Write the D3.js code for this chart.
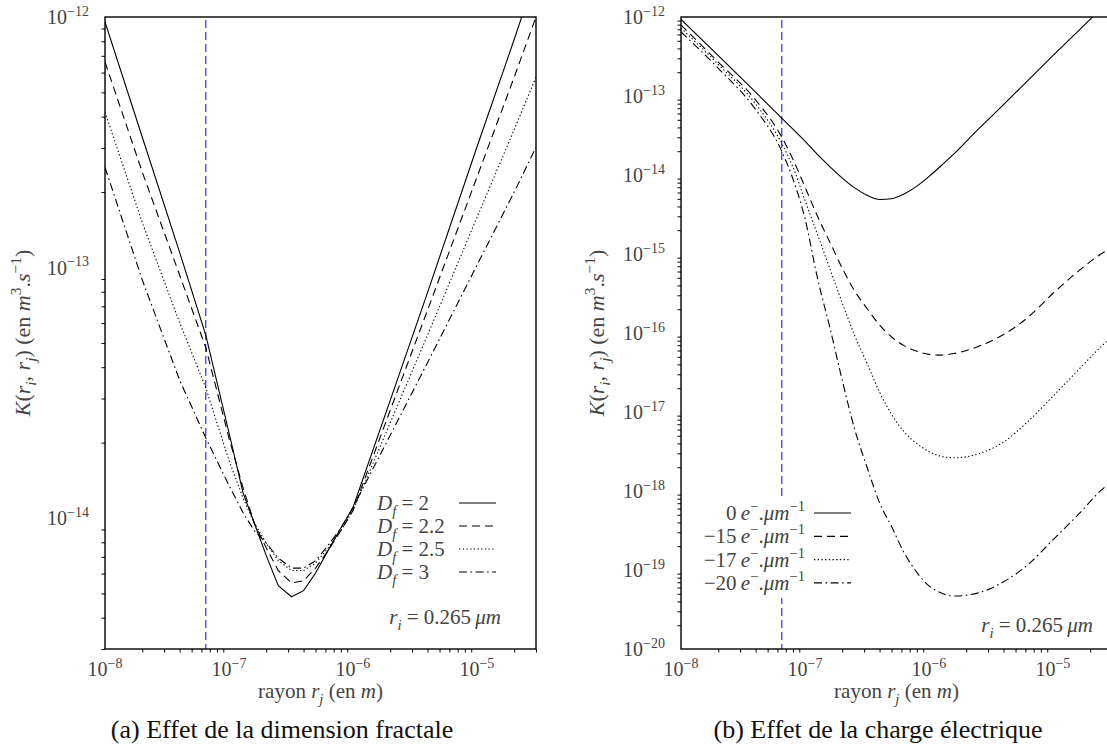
<!DOCTYPE html>
<html><head><meta charset="utf-8">
<script src="https://cdn.jsdelivr.net/npm/d3@7"></script>
<style>body{margin:0;background:#fff}</style>
</head><body><svg id="c" width="1107" height="746"></svg>
<script>
// ---------- data ----------
const xDomain = [1e-8, 3e-5];
const xMajorTicks = [1e-8, 1e-7, 1e-6, 1e-5];
const xMajorLabels = ["\u22128", "\u22127", "\u22126", "\u22125"];
const yDomainA = [3e-15, 1e-12];
const yMajorA = [1e-14, 1e-13, 1e-12];
const yLabelsA = ["\u221214", "\u221213", "\u221212"];
const yDomainB = [1e-20, 1e-12];
const yMajorB = [1e-20, 1e-19, 1e-18, 1e-17, 1e-16, 1e-15, 1e-14, 1e-13, 1e-12];
const yLabelsB = ["\u221220", "\u221219", "\u221218", "\u221217", "\u221216", "\u221215", "\u221214", "\u221213", "\u221212"];
const meanFreePath = 6.5e-8;

// panel (a): effect of fractal dimension
const rA = [1e-8, 2e-8, 4e-8, 6.5e-8, 1e-7, 1.3e-7, 1.6e-7, 2e-7, 2.5e-7, 3.2e-7, 4e-7, 5e-7, 6.3e-7, 8e-7, 1e-6, 2e-6, 4e-6, 1e-5, 2e-5, 3e-5];
const kDf2  = [9.55e-13, 3.31e-13, 1.15e-13, 5.37e-14, 2.19e-14, 1.26e-14, 9.55e-15, 7.08e-15, 5.37e-15, 4.85e-15, 5.13e-15, 6.03e-15, 7.41e-15, 9.12e-15, 1.10e-14, 2.95e-14, 7.94e-14, 3.02e-13, 8.13e-13, 1.48e-12];
const kDf22 = [6.61e-13, 2.40e-13, 9.33e-14, 4.79e-14, 2.09e-14, 1.32e-14, 9.55e-15, 7.59e-15, 6.17e-15, 5.50e-15, 5.62e-15, 6.31e-15, 7.41e-15, 8.91e-15, 1.07e-14, 2.69e-14, 6.76e-14, 2.29e-13, 5.75e-13, 1.00e-12];
const kDf25 = [4.17e-13, 1.51e-13, 6.03e-14, 3.31e-14, 1.70e-14, 1.20e-14, 9.55e-15, 7.94e-15, 6.76e-15, 6.17e-15, 6.17e-15, 6.61e-15, 7.59e-15, 8.91e-15, 1.07e-14, 2.40e-14, 5.37e-14, 1.58e-13, 3.55e-13, 5.75e-13];
const kDf3  = [2.51e-13, 8.91e-14, 3.55e-14, 2.09e-14, 1.35e-14, 1.05e-14, 8.91e-15, 7.94e-15, 6.92e-15, 6.31e-15, 6.31e-15, 6.76e-15, 7.76e-15, 9.12e-15, 1.10e-14, 2.14e-14, 4.17e-14, 1.02e-13, 2.00e-13, 3.02e-13];

// panel (b): effect of electric charge
const rB = [1e-8, 2e-8, 4e-8, 6.5e-8, 8e-8, 1e-7, 1.26e-7, 1.6e-7, 2e-7, 2.5e-7, 3.2e-7, 4e-7, 5e-7, 6.3e-7, 8e-7, 1e-6, 1.26e-6, 1.6e-6, 2.5e-6, 4e-6, 6.3e-6, 1e-5, 1.6e-5, 2.5e-5, 3e-5];
const kQ0   = [9.33e-13, 3.24e-13, 1.12e-13, 5.25e-14, 3.80e-14, 2.69e-14, 1.82e-14, 1.26e-14, 9.12e-15, 6.92e-15, 5.50e-15, 4.90e-15, 5.01e-15, 5.75e-15, 7.24e-15, 9.55e-15, 1.32e-14, 1.86e-14, 3.80e-14, 7.76e-14, 1.58e-13, 3.24e-13, 6.61e-13, 1.32e-12, 1.74e-12];
const kQ15  = [7.94e-13, 2.69e-13, 8.91e-14, 3.02e-14, 1.58e-14, 7.08e-15, 3.02e-15, 1.38e-15, 6.61e-16, 3.47e-16, 2.00e-16, 1.26e-16, 8.91e-17, 6.92e-17, 5.89e-17, 5.37e-17, 5.25e-17, 5.50e-17, 6.76e-17, 9.55e-17, 1.58e-16, 3.16e-16, 6.03e-16, 1.02e-15, 1.20e-15];
const kQ17  = [7.24e-13, 2.51e-13, 7.94e-14, 2.51e-14, 1.26e-14, 4.79e-15, 1.78e-15, 6.31e-16, 2.40e-16, 9.55e-17, 3.98e-17, 1.78e-17, 9.33e-18, 5.62e-18, 3.98e-18, 3.16e-18, 2.75e-18, 2.63e-18, 2.95e-18, 4.17e-18, 7.59e-18, 1.58e-17, 3.39e-17, 6.92e-17, 8.91e-17];
const kQ20  = [6.46e-13, 2.24e-13, 6.76e-14, 2.00e-14, 8.91e-15, 2.82e-15, 5.01e-16, 1.12e-16, 2.51e-17, 6.31e-18, 1.91e-18, 7.08e-19, 3.55e-19, 1.66e-19, 9.33e-20, 6.31e-20, 5.13e-20, 4.68e-20, 5.13e-20, 7.08e-20, 1.17e-19, 2.40e-19, 5.01e-19, 1.05e-18, 1.32e-18];

const legendA = [[["D","i"],["f","ib"],[" = 2",""]], [["D","i"],["f","ib"],[" = 2.2",""]], [["D","i"],["f","ib"],[" = 2.5",""]], [["D","i"],["f","ib"],[" = 3",""]]];
const legendB = ["0", "\u221215", "\u221217", "\u221220"];
const dashes = [null, "8,5", "1.3,2.4", "8,3.5,1.6,3.5"];

// ---------- drawing ----------
const FONT = "'Liberation Serif','DejaVu Serif',serif";
const svg = d3.select("#c");
const defs = svg.append("defs");

function rich(parent, x, y, parts, size, anchor, color) {
  const t = parent.append("text").attr("x", x).attr("y", y)
    .attr("font-family", FONT).attr("font-size", size)
    .attr("text-anchor", anchor || "start").attr("fill", color || "#333");
  let shift = 0;
  parts.forEach(p => {
    const txt = p[0], st = p[1] || "";
    let target = 0, fs = size;
    if (st.includes("b")) { target = size * 0.28; fs = size * 0.7; }
    if (st.includes("p")) { target = -size * 0.42; fs = size * 0.7; }
    const ts = t.append("tspan").text(txt).attr("font-size", fs);
    if (target - shift !== 0) ts.attr("dy", target - shift);
    if (st.includes("i")) ts.attr("font-style", "italic");
    shift = target;
  });
  return t;
}

function panel(cfg) {
  const g = svg.append("g");
  const x = d3.scaleLog().domain(xDomain).range([cfg.x0, cfg.x1]);
  const y = d3.scaleLog().domain(cfg.yDomain).range([cfg.y1, cfg.y0]);
  const cid = "clip" + cfg.id;
  defs.append("clipPath").attr("id", cid).append("rect")
    .attr("x", cfg.x0).attr("y", cfg.y0).attr("width", cfg.x1 - cfg.x0).attr("height", cfg.y1 - cfg.y0);
  const plot = g.append("g").attr("clip-path", `url(#${cid})`);

  plot.append("line").attr("x1", x(meanFreePath)).attr("x2", x(meanFreePath))
    .attr("y1", cfg.y0 + 3).attr("y2", cfg.y1)
    .attr("stroke", "#2b2bf0").attr("stroke-width", 1.2).attr("stroke-dasharray", "8,4");

  const line = d3.line().x(d => x(d[0])).y(d => y(d[1])).curve(cfg.curve);
  cfg.series.forEach((s, i) => {
    plot.append("path").datum(cfg.xs.map((v, j) => [v, s[j]]))
      .attr("d", line).attr("fill", "none").attr("stroke", "#000")
      .attr("stroke-width", 1.1).attr("stroke-dasharray", dashes[i]);
  });

  const L = cfg.legend;
  g.append("rect").attr("x", L.bx).attr("y", L.by).attr("width", L.bw).attr("height", L.bh).attr("fill", "#fff");
  L.rows.forEach((r, i) => {
    const yy = L.y + i * L.dy;
    rich(g, L.tx, yy + 7, r, 21, L.anchor, "#444");
    g.append("line").attr("x1", L.lx0).attr("x2", L.lx1).attr("y1", yy).attr("y2", yy)
      .attr("stroke", "#000").attr("stroke-width", 1.2).attr("stroke-dasharray", dashes[i]);
  });
  rich(g, cfg.riX, cfg.riY, [["r","i"],["i","ib"],[" = 0.265\u2009",""],["\u03bcm","i"]], 21, "end", "#444");

  const xa = g.append("g").attr("transform", `translate(0,${cfg.y1})`);
  xa.call(d3.axisBottom(x).tickValues(xMajorTicks).tickSize(6).tickFormat(""));
  xa.call(d3.axisBottom(x).tickValues(cfg.xMinor).tickSize(3.5).tickFormat(""));
  xa.selectAll(".domain").remove();
  const ya = g.append("g").attr("transform", `translate(${cfg.x0},0)`);
  ya.call(d3.axisLeft(y).tickValues(cfg.yMajor).tickSize(6).tickFormat(""));
  ya.call(d3.axisLeft(y).tickValues(cfg.yMinor).tickSize(3.5).tickFormat(""));
  ya.selectAll(".domain").remove();
  g.selectAll(".tick line").attr("stroke", "#000").attr("stroke-width", 1);

  xMajorTicks.forEach((v, i) => {
    rich(g, x(v), cfg.y1 + 27, [["10",""],[xMajorLabels[i],"p"]], 20, "middle", "#444");
  });
  cfg.yMajor.forEach((v, i) => {
    rich(g, cfg.x0 - 16, y(v) + 7, [["10",""],[cfg.yLabels[i],"p"]], 20, "end", "#444");
  });

  g.append("rect").attr("x", cfg.x0).attr("y", cfg.y0).attr("width", cfg.x1 - cfg.x0).attr("height", cfg.y1 - cfg.y0)
    .attr("fill", "none").attr("stroke", "#000").attr("stroke-width", 1.4);

  rich(g, (cfg.x0 + cfg.x1) / 2, cfg.y1 + 49, [["rayon ",""],["r","i"],["j","ib"],[" (en ",""],["m","i"],[")",""]], 21, "middle", "#444");
  const yc = (cfg.y0 + cfg.y1) / 2;
  const yl = rich(g, cfg.ylx, yc,
    [["K","i"],["(",""],["r","i"],["i","ib"],[", ",""],["r","i"],["j","ib"],[") (en ",""],["m","i"],["3","p"],[".",""],["s","i"],["\u22121","p"],[")",""]],
    22, "middle", "#444");
  yl.attr("transform", `rotate(-90,${cfg.ylx},${yc})`);

  svg.append("text").attr("x", cfg.capX).attr("y", 738).attr("text-anchor", "middle")
    .attr("font-family", FONT).attr("font-size", 26).attr("fill", "#111").text(cfg.caption);
}

function minors(lo, hi) {
  const out = [];
  for (let e = -21; e <= -4; e++) for (let m = 2; m <= 9; m++) {
    const v = m * Math.pow(10, e);
    if (v >= lo * 0.999 && v <= hi * 1.001) out.push(v);
  }
  return out;
}

panel({
  id: "a", x0: 105, x1: 536, y0: 17, y1: 649, yDomain: yDomainA, yMajor: yMajorA, yLabels: yLabelsA,
  xMinor: minors(1e-8, 3e-5), yMinor: minors(3e-15, 1e-12),
  xs: rA, series: [kDf2, kDf22, kDf25, kDf3], curve: d3.curveLinear,
  legend: { rows: legendA, tx: 377, anchor: "start", lx0: 459, lx1: 496, y: 503, dy: 23, bx: 370, by: 488, bw: 132, bh: 98 },
  riX: 501, riY: 624, ylx: 30, capX: 282, caption: "(a) Effet de la dimension fractale"
});
panel({
  id: "b", x0: 681, x1: 1112, y0: 17, y1: 649, yDomain: yDomainB, yMajor: yMajorB, yLabels: yLabelsB,
  xMinor: minors(1e-8, 3e-5), yMinor: minors(1e-20, 1e-12),
  xs: rB, series: [kQ0, kQ15, kQ17, kQ20], curve: d3.curveMonotoneX,
  legend: { rows: legendB.map(q => [[q,""],["\u2009",""],["e","i"],["\u2212","p"],[".",""],["\u03bcm","i"],["\u22121","p"]]),
            tx: 805, anchor: "end", lx0: 814, lx1: 851, y: 513, dy: 23.3, bx: 688, by: 497, bw: 170, bh: 101 },
  riX: 1093, riY: 632, ylx: 604, capX: 878, caption: "(b) Effet de la charge \u00e9lectrique"
});
</script></body></html>
